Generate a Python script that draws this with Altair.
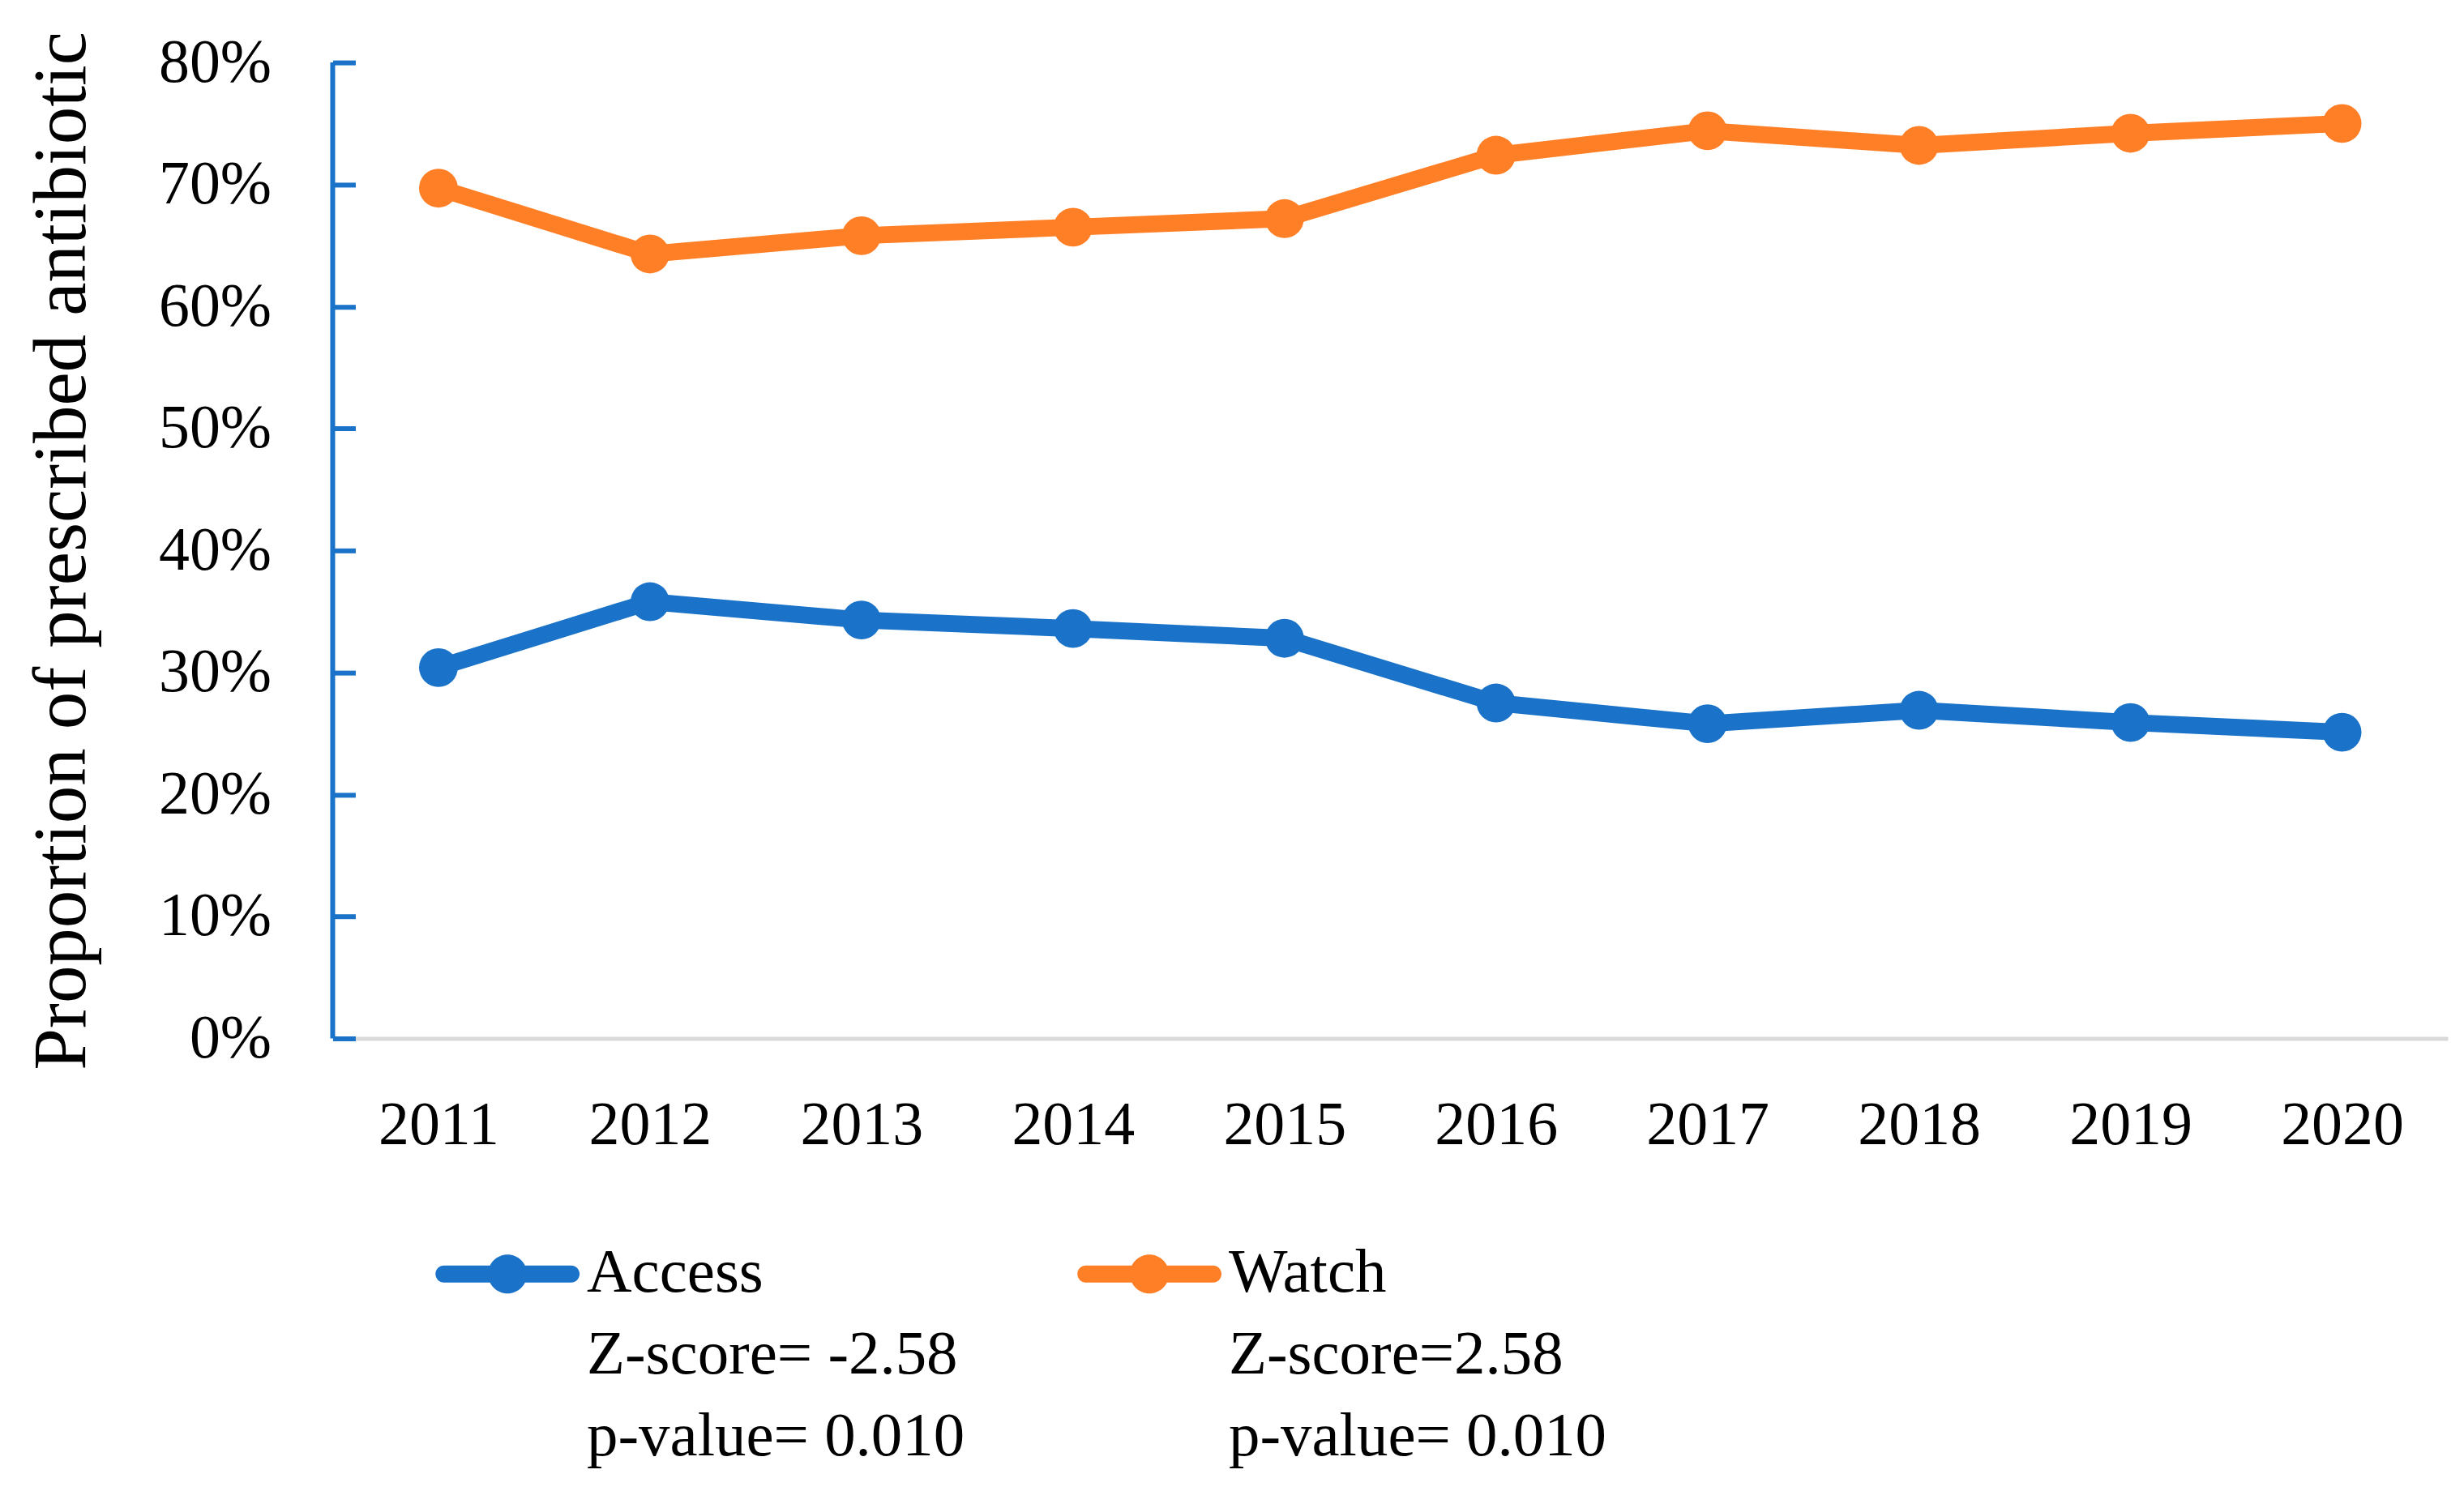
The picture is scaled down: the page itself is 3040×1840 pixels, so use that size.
import altair as alt
import pandas as pd

YEARS = ["2011", "2012", "2013", "2014", "2015", "2016", "2017", "2018", "2019", "2020"]
ACCESS = [30.4, 35.8, 34.3, 33.6, 32.8, 27.5, 25.8, 26.9, 25.9, 25.1]
WATCH = [69.7, 64.3, 65.8, 66.5, 67.2, 72.4, 74.4, 73.2, 74.2, 75.0]
SERIES = ["Access", "Watch"]
ZSCORE_TEXT = ["Z-score= -2.58", "Z-score=2.58"]
PVALUE_TEXT = ["p-value= 0.010", "p-value= 0.010"]
Y_TICKS = [0.0, 0.1, 0.2, 0.3, 0.4, 0.5, 0.6, 0.7, 0.8]
COLORS = ["#1A73C8", "#FE7F26"]
Y_TITLE = "Proportion of prescribed antibiotic"

rows = []
for s, vals in zip(SERIES, [ACCESS, WATCH]):
    for yr, v in zip(YEARS, vals):
        rows.append({"Year": yr, "Series": s, "LineSeries": s, "Value": v / 100.0})
df = pd.DataFrame(rows)

W, H = 2613, 1206
FONT = "Liberation Serif"
BLUE = COLORS[0]

# multi-line legend labels built from the arrays above
parts = []
for s, z, p in zip(SERIES, ZSCORE_TEXT, PVALUE_TEXT):
    parts.append((s, "['%s', '%s', '%s']" % (s, z, p)))
label_expr = "datum.label == '%s' ? %s : %s" % (parts[0][0], parts[0][1], parts[1][1])

# legend symbol: thick rounded line with a circle, raised to text middle
SYMBOL_PATH = (
    "M-0.882,-0.365L0.882,-0.365A0.118,0.118 0 0 1 0.882,-0.129"
    "L-0.882,-0.129A0.118,0.118 0 0 1 -0.882,-0.365Z"
    "M-0.27,-0.247A0.27,0.27 0 1 1 0.27,-0.247A0.27,0.27 0 1 1 -0.27,-0.247Z"
)

x_enc = alt.X(
    "Year:O",
    sort=YEARS,
    scale=alt.Scale(type="point", padding=0.5),
    axis=alt.Axis(
        title=None, labelAngle=0, labelFont=FONT, labelFontSize=76, labelColor="black",
        labelPadding=70, ticks=False, tickSize=0, domainColor="#D9D9D9", domainWidth=5, grid=False,
    ),
)
y_enc = alt.Y(
    "Value:Q",
    scale=alt.Scale(domain=[0, 0.8]),
    axis=alt.Axis(
        values=Y_TICKS, format=".0%", title=Y_TITLE, titleFont=FONT, titleFontSize=93,
        titleFontWeight="normal", titleColor="black", titlePadding=114, labelFont=FONT,
        labelFontSize=76, labelColor="black", labelPadding=76, offset=-28, domain=False,
        ticks=True, tickSize=28, tickColor=BLUE, tickWidth=6, grid=False,
    ),
)

# stroke scale keeps a data-driven domain so its (hidden) legend is not merged with the fill legend
lines = alt.Chart(df).mark_line(strokeWidth=21).encode(
    x=x_enc, y=y_enc,
    stroke=alt.Stroke("LineSeries:N", scale=alt.Scale(range=COLORS), legend=None),
    detail="LineSeries:N",
)

points = alt.Chart(df).mark_point(filled=True, size=2300, opacity=1).encode(
    x=x_enc, y=y_enc,
    fill=alt.Fill(
        "Series:N",
        scale=alt.Scale(domain=SERIES, range=COLORS),
        legend=alt.Legend(
            orient="none",
            legendX=127,
            legendY=1430,
            direction="horizontal",
            title=None,
            symbolType=SYMBOL_PATH,
            symbolSize=31684,
            symbolStrokeWidth=0,
            symbolOpacity=1,
            labelFont=FONT,
            labelFontSize=77,
            labelColor="black",
            labelBaseline="alphabetic",
            labelOffset=9,
            labelLimit=2000,
            labelExpr=label_expr,
            columnPadding=138,
            padding=0,
        ),
    ),
)

yline = alt.Chart(pd.DataFrame({"k": [0]})).mark_rule(color=BLUE, strokeWidth=6).encode(
    x=alt.value(0), y=alt.value(0), y2=alt.value(H)
)

chart = (
    alt.layer(lines, points, yline)
    .properties(
        width=W,
        height=H,
        autosize=alt.AutoSizeParams(type="none"),
        padding={"left": 403, "top": 68, "right": 12, "bottom": 550},
        background="white",
    )
    .configure(style={"guide-label": {"lineHeight": 101}})
    .configure_view(stroke=None)
)

chart.save("out.html", embed_options={"renderer": "svg", "actions": False})
